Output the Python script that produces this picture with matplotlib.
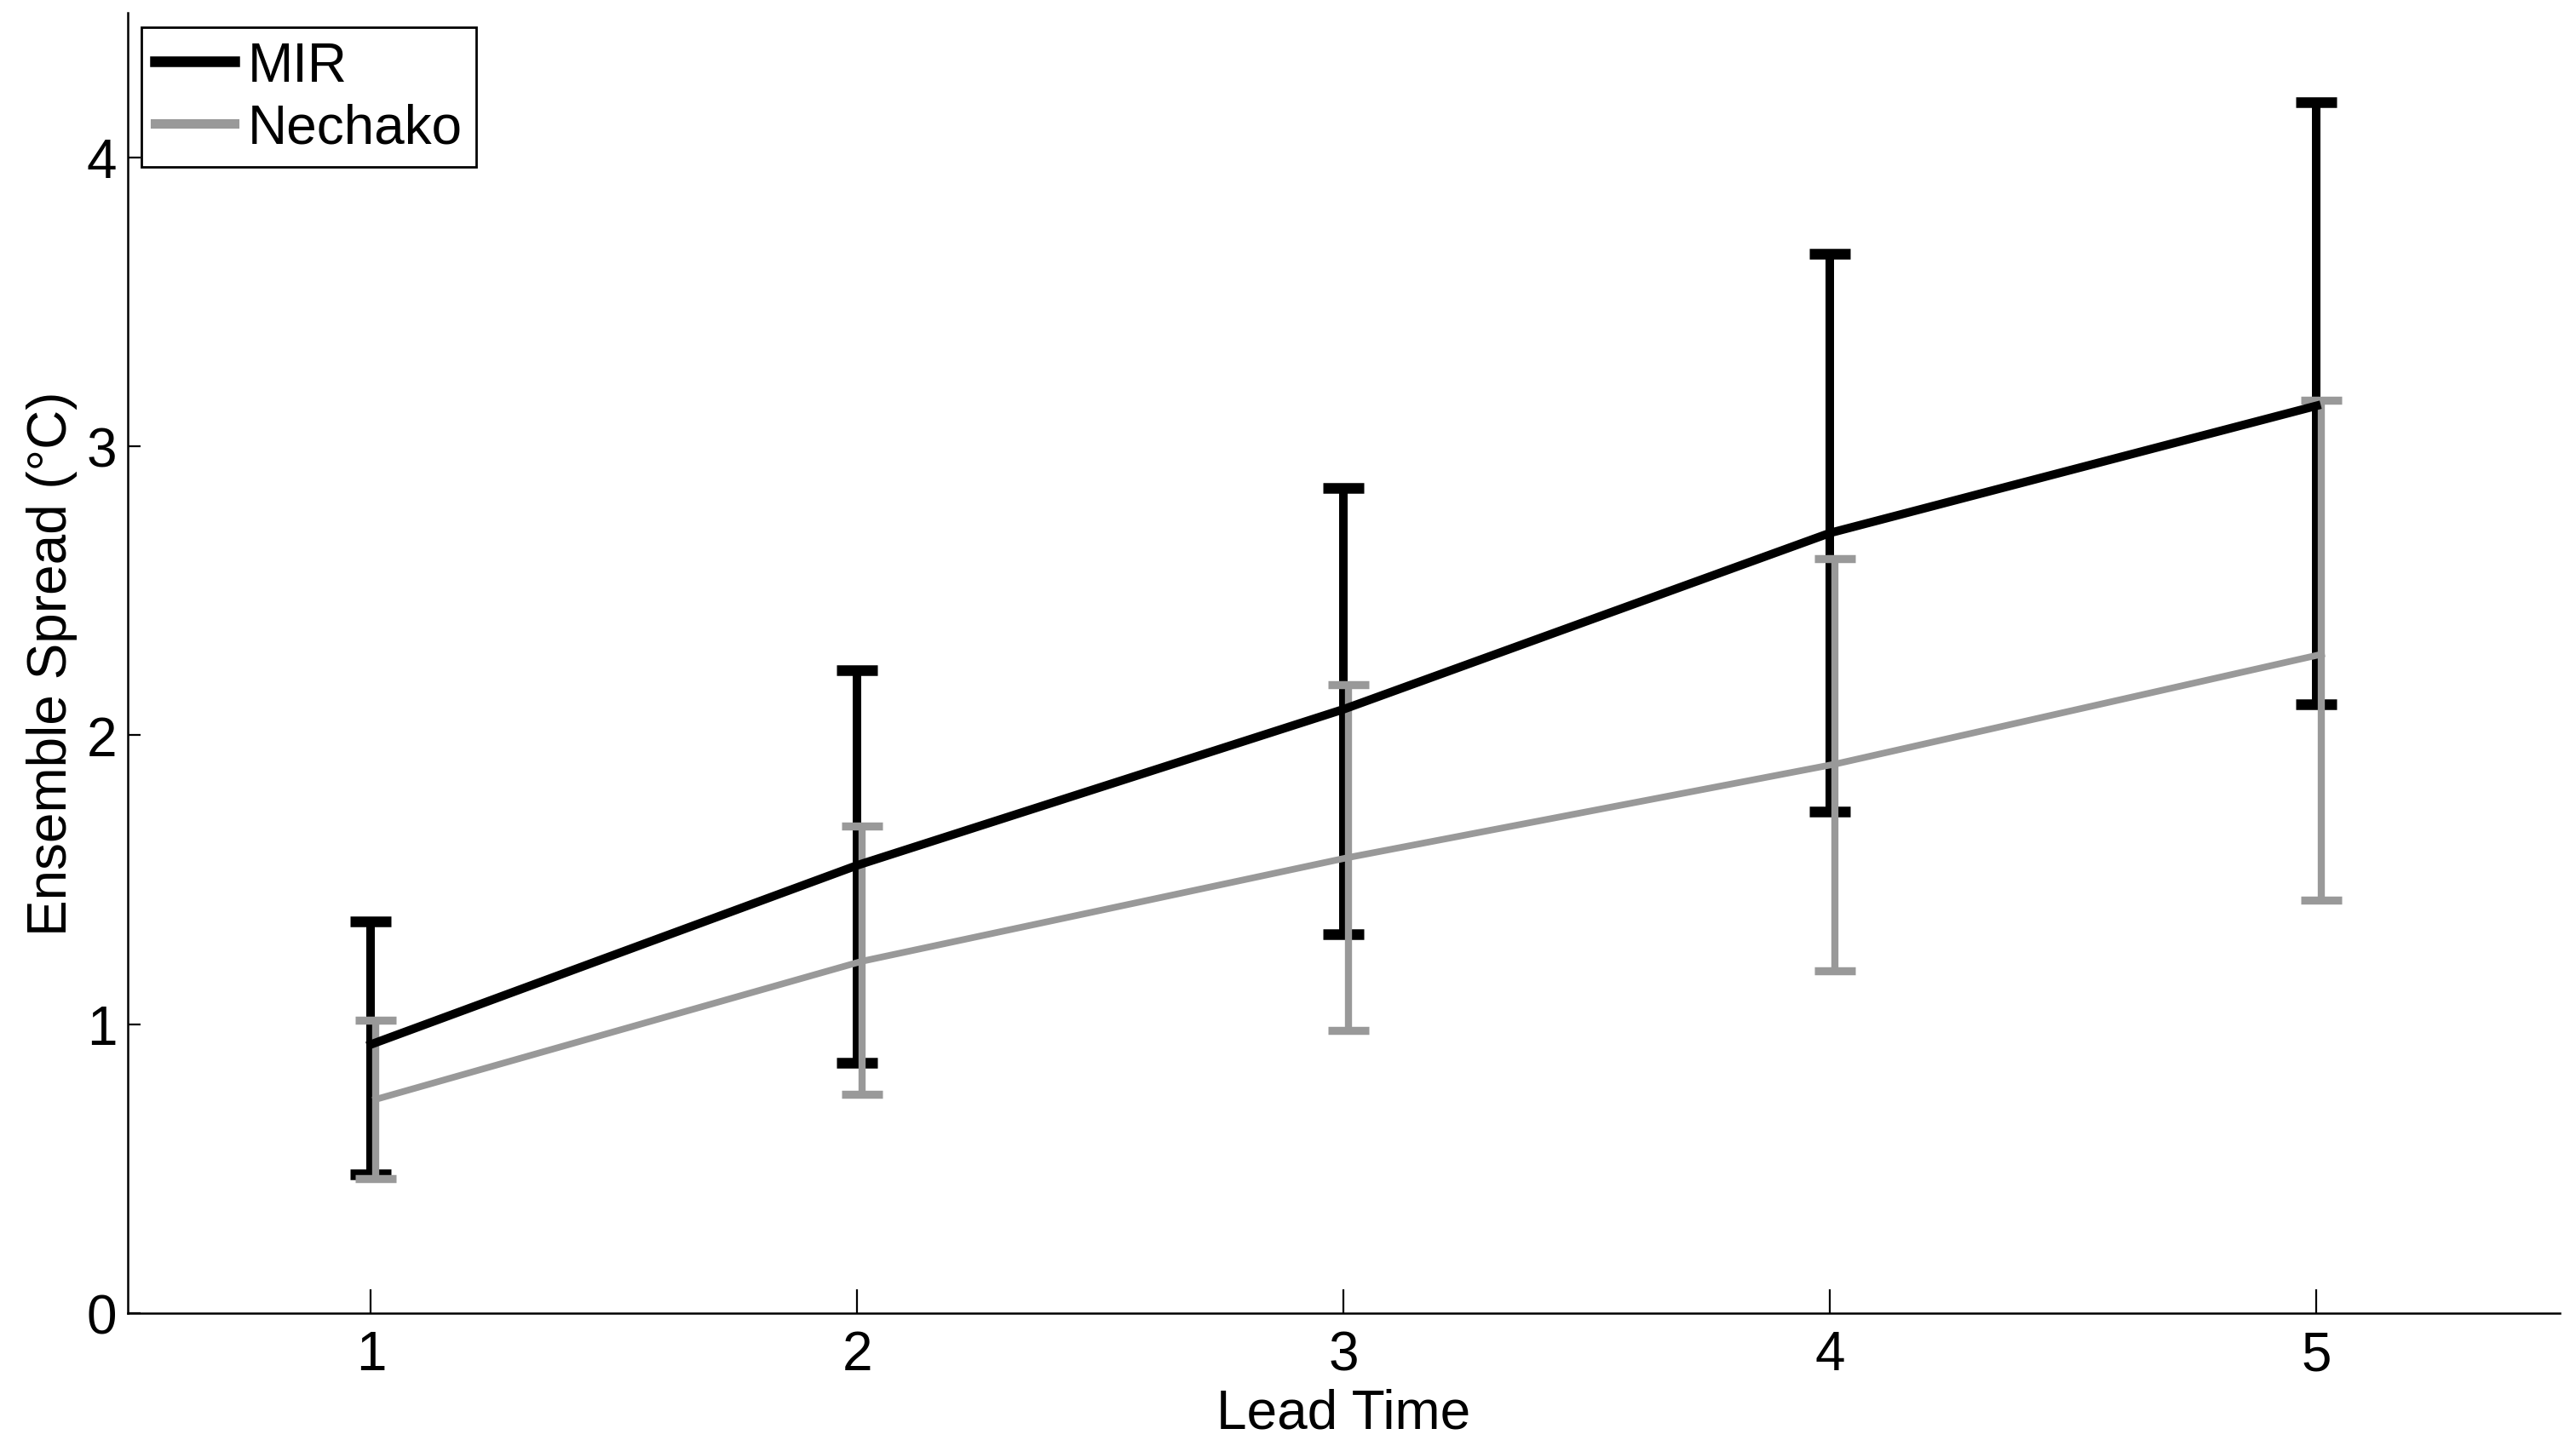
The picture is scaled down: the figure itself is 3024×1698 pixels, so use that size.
# Ensemble spread vs lead time, MIR vs Nechako, with error bars
import matplotlib.pyplot as plt
from matplotlib.lines import Line2D
import numpy as np

lead_time = np.array([1, 2, 3, 4, 5])

mir_mean = np.array([0.93, 1.55, 2.09, 2.70, 3.14])
mir_upper = np.array([1.355, 2.225, 2.857, 3.665, 4.19])
mir_lower = np.array([0.48, 0.865, 1.31, 1.735, 2.106])

nechako_mean = np.array([0.74, 1.218, 1.577, 1.90, 2.28])
nechako_upper = np.array([1.013, 1.685, 2.174, 2.612, 3.159])
nechako_lower = np.array([0.467, 0.757, 0.979, 1.184, 1.429])

x_ticks = [1, 2, 3, 4, 5]
y_ticks = [0, 1, 2, 3, 4]

GREY = "#999999"

plt.rcParams["font.family"] = ["Liberation Sans", "DejaVu Sans"]
plt.rcParams["font.size"] = 23

fig = plt.figure(figsize=(15.12, 8.495), dpi=200)
ax = fig.add_axes([0.0496, 0.0918, 0.9441, 0.8988])

ax.errorbar(
    lead_time, mir_mean,
    yerr=[mir_mean - mir_lower, mir_upper - mir_mean],
    color="black", linewidth=3.6, elinewidth=3.6,
    capsize=8.5, capthick=4.5,
)
ax.errorbar(
    lead_time + 0.01, nechako_mean,
    yerr=[nechako_mean - nechako_lower, nechako_upper - nechako_mean],
    color=GREY, linewidth=2.8, elinewidth=3.0,
    capsize=8.5, capthick=3.4,
)

ax.set_xlim(0.5, 5.5)
ax.set_ylim(0, 4.5)
ax.set_xticks(x_ticks)
ax.set_yticks(y_ticks)
ax.tick_params(axis="x", direction="in", length=10, width=0.8, pad=7)
ax.tick_params(axis="y", direction="in", length=5.4, width=0.8, pad=4.5)

for side in ("top", "right"):
    ax.spines[side].set_visible(False)
for side in ("left", "bottom"):
    ax.spines[side].set_linewidth(0.9)

ax.set_xlabel("Lead Time", labelpad=3)
ax.set_ylabel("Ensemble Spread (°C)", labelpad=4)

handles = [
    Line2D([], [], color="black", linewidth=4.5),
    Line2D([], [], color=GREY, linewidth=4.0),
]
leg = ax.legend(
    handles, ["MIR", "Nechako"],
    loc="upper left", bbox_to_anchor=(0.0056, 0.989),
    borderaxespad=0, fancybox=False, framealpha=1,
    handlelength=1.45, handletextpad=0.25, labelspacing=0.2,
    borderpad=0.25, fontsize=23,
)
leg.get_frame().set_edgecolor("black")
leg.get_frame().set_linewidth(1.0)

fig.savefig("out.png", dpi=200, facecolor="white")
